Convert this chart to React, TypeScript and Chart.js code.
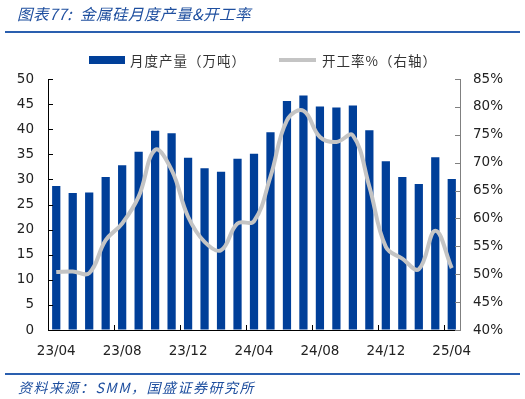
import React, { useEffect, useRef } from 'react';
import { Chart, registerables } from 'chart.js';

Chart.register(...registerables);

const months = [
  '23/04', '23/05', '23/06', '23/07', '23/08', '23/09', '23/10', '23/11', '23/12',
  '24/01', '24/02', '24/03', '24/04', '24/05', '24/06', '24/07', '24/08', '24/09',
  '24/10', '24/11', '24/12', '25/01', '25/02', '25/03', '25/04',
];

const production = [
  28.7, 27.3, 27.4, 30.5, 32.8, 35.5, 39.7, 39.2, 34.3, 32.2, 31.5, 34.1, 35.1,
  39.4, 45.6, 46.7, 44.5, 44.3, 44.7, 39.8, 33.6, 30.5, 29.1, 34.4, 30.1,
];

const utilization = [
  50.4, 50.5, 50.2, 56.1, 59.1, 63.9, 72.3, 68.7, 60.3, 55.8, 54.3, 59.1, 59.5,
  67.5, 77.6, 79.3, 74.6, 73.7, 74.9, 65.7, 54.9, 52.8, 50.9, 57.8, 51.1,
];

const barLabel = '月度产量（万吨）';
const lineLabel = '开工率%（右轴）';
const titleText = '图表77:  金属硅月度产量&开工率';
const sourceText = '资料来源：SMM，国盛证券研究所';

const BAR_COLOR = '#003f99';
const LINE_COLOR = '#c4c4c4';
const ACCENT = '#2a5faf';
const TEXT_BLUE = '#1f4f9f';
const NUM_FONT = "'DejaVu Sans', sans-serif";
const CJK_FONT = "'Noto Sans CJK SC', sans-serif";

const inwardTicks = {
  id: 'inwardTicks',
  afterDatasetsDraw(chart: any) {
    const { ctx, chartArea, scales } = chart;
    const x = scales.x;
    const y = scales.y;
    const y1 = scales.y1;
    ctx.save();
    ctx.lineWidth = 1;
    ctx.strokeStyle = '#000';
    ctx.beginPath();
    y.ticks.forEach((t: any) => {
      const py = Math.round(y.getPixelForValue(t.value)) + 0.5;
      ctx.moveTo(chartArea.left, py);
      ctx.lineTo(chartArea.left + 5, py);
    });
    const step = x.getPixelForValue(1) - x.getPixelForValue(0);
    for (let i = 4; i < months.length; i += 4) {
      const px = Math.round(x.getPixelForValue(i) - step / 2) + 0.5;
      ctx.moveTo(px, chartArea.bottom);
      ctx.lineTo(px, chartArea.bottom - 5);
    }
    ctx.stroke();
    ctx.strokeStyle = '#808080';
    ctx.beginPath();
    y1.ticks.forEach((t: any) => {
      const py = Math.round(y1.getPixelForValue(t.value)) + 0.5;
      ctx.moveTo(chartArea.right - 5, py);
      ctx.lineTo(chartArea.right, py);
    });
    ctx.stroke();
    ctx.restore();
  },
};

export default function App() {
  const canvasRef = useRef<HTMLCanvasElement | null>(null);

  useEffect(() => {
    if (!canvasRef.current) return;
    const chart = new Chart(canvasRef.current, {
      type: 'bar',
      data: {
        labels: months,
        datasets: [
          {
            type: 'line',
            label: lineLabel,
            data: utilization,
            yAxisID: 'y1',
            borderColor: LINE_COLOR,
            borderWidth: 4,
            pointRadius: 0,
            tension: 0.4,
            fill: false,
            order: 0,
          } as any,
          {
            type: 'bar',
            label: barLabel,
            data: production,
            yAxisID: 'y',
            backgroundColor: BAR_COLOR,
            barPercentage: 0.5,
            categoryPercentage: 1,
            order: 1,
          },
        ],
      },
      options: {
        responsive: false,
        maintainAspectRatio: false,
        animation: false,
        layout: { padding: { top: 79, left: 0, right: 0, bottom: 0 } },
        plugins: {
          legend: { display: false },
          tooltip: { enabled: false },
          title: { display: false },
        },
        scales: {
          x: {
            offset: true,
            grid: { display: true, drawOnChartArea: false, drawTicks: false, color: 'transparent' },
            border: { display: true, color: '#000', width: 1 },
            ticks: {
              autoSkip: false,
              maxRotation: 0,
              minRotation: 0,
              padding: 13,
              color: '#222',
              font: { family: NUM_FONT, size: 13.5 },
              callback: (_v: any, i: number) => (i % 4 === 0 ? months[i] : ''),
            },
            afterFit: (s: any) => { s.height = 69; },
          },
          y: {
            position: 'left',
            min: 0,
            max: 50,
            grid: { display: true, drawOnChartArea: false, drawTicks: false, color: 'transparent' },
            border: { display: true, color: '#000', width: 1 },
            ticks: {
              stepSize: 5,
              padding: 14,
              color: '#222',
              font: { family: NUM_FONT, size: 13.5 },
            },
            afterFit: (s: any) => { s.width = 48; },
          },
          y1: {
            position: 'right',
            min: 40,
            max: 85,
            grid: { display: true, drawOnChartArea: false, drawTicks: false, color: 'transparent' },
            border: { display: true, color: '#808080', width: 1 },
            ticks: {
              stepSize: 5,
              padding: 13,
              color: '#222',
              font: { family: NUM_FONT, size: 13.5 },
              callback: (v: any) => `${v}%`,
            },
            afterFit: (s: any) => { s.width = 65; },
          },
        },
      },
      plugins: [inwardTicks],
    });
    return () => chart.destroy();
  }, []);

  return (
    <div style={{ position: 'fixed', left: 0, top: 0, width: 525, height: 399, background: '#fff', overflow: 'hidden' }}>
      <canvas ref={canvasRef} width={525} height={399} style={{ position: 'absolute', left: 0, top: 0, width: 525, height: 399 }} />
      <div style={{ position: 'absolute', left: 17, top: 3, fontFamily: CJK_FONT, fontStyle: 'italic', fontSize: 15.5, letterSpacing: 0.5, lineHeight: '20px', color: TEXT_BLUE, whiteSpace: 'pre' }}>
        {titleText}
      </div>
      <div style={{ position: 'absolute', left: 5, top: 31, width: 515, height: 2, background: ACCENT }} />
      <div style={{ position: 'absolute', left: 89, top: 56, width: 36, height: 8, background: BAR_COLOR }} />
      <div style={{ position: 'absolute', left: 130, top: 50, fontFamily: CJK_FONT, fontSize: 13.5, letterSpacing: 1, lineHeight: '20px', color: '#333', whiteSpace: 'pre' }}>
        {barLabel}
      </div>
      <div style={{ position: 'absolute', left: 279, top: 58, width: 37, height: 4, background: LINE_COLOR }} />
      <div style={{ position: 'absolute', left: 322, top: 50, fontFamily: CJK_FONT, fontSize: 13.5, letterSpacing: 1, lineHeight: '20px', color: '#333', whiteSpace: 'pre' }}>
        {lineLabel}
      </div>
      <div style={{ position: 'absolute', left: 5, top: 373, width: 515, height: 2, background: ACCENT }} />
      <div style={{ position: 'absolute', left: 18, top: 377, fontFamily: CJK_FONT, fontStyle: 'italic', fontSize: 14, letterSpacing: 1.5, lineHeight: '20px', color: TEXT_BLUE, whiteSpace: 'pre' }}>
        {sourceText}
      </div>
    </div>
  );
}
